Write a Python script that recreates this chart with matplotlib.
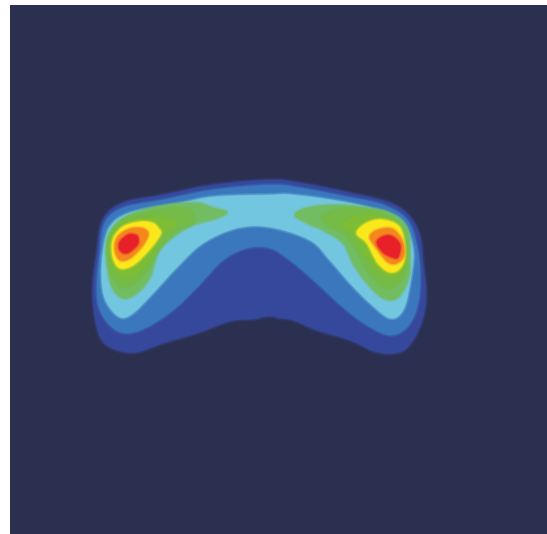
import numpy as np
import matplotlib
matplotlib.use("Agg")
import matplotlib.pyplot as plt

# contour bands (x, y in image coordinates)
band_outer = [(270,180),(213,185),(163,195),(123,203),(103,220),(97,253),(93,287),(95,317),(102,340),(117,350),(137,352),(163,343),(197,333),(230,321),(253,319),(262,317),(270,316),(280,318),(293,320),(317,330),(350,340),(377,352),(400,352),(413,340),(423,317),(426,293),(423,263),(420,237),(410,217),(390,203),(350,193),(300,183)]
band_mid = [(270,185),(213,190),(163,200),(123,208),(105,223),(100,253),(97,287),(100,310),(112,327),(127,333),(147,327),(173,310),(197,287),(223,260),(247,248),(270,248),(290,260),(317,283),(343,307),(367,325),(390,335),(407,327),(417,307),(420,280),(417,247),(407,220),(383,205),(347,197),(300,188)]
band_light = [(270,195),(213,197),(173,205),(130,213),(110,227),(103,253),(102,283),(107,303),(120,317),(133,313),(153,293),(177,267),(203,243),(237,228),(270,227),(310,240),(330,260),(350,283),(370,303),(390,318),(403,310),(410,283),(413,250),(403,223),(383,212),(343,202),(293,195)]

green1_left = [(227,212),(217,218),(193,225),(173,237),(158,253),(150,277),(137,293),(123,298),(112,287),(107,263),(107,240),(117,223),(137,212),(167,205),(197,203),(213,208)]
green2_left = [(190,210),(193,223),(177,230),(160,247),(147,270),(135,283),(122,287),(113,277),(108,257),(110,237),(123,220),(147,213),(170,208)]
green3_left = [(173,220),(175,225),(160,237),(150,257),(138,273),(123,277),(113,267),(110,250),(113,233),(130,220),(153,217)]
yellow_left = [(158,228),(160,235),(147,252),(133,265),(120,268),(113,257),(113,240),(123,227),(140,222),(152,223)]
orange_left = [(148,233),(143,245),(130,258),(120,260),(115,250),(117,238),(127,230),(140,228)]
red_left = [(138,238),(137,245),(127,253),(120,250),(120,242),(128,235),(135,235)]

green1_right = [(295,215),(307,208),(337,205),(367,208),(390,213),(407,228),(410,257),(408,280),(397,298),(383,298),(367,283),(353,263),(343,243),(323,230),(307,223)]
green2_right = [(323,215),(347,208),(377,212),(400,227),(407,257),(403,277),(393,287),(383,287),(367,270),(357,250),(343,233),(327,225)]
green3_right = [(342,225),(353,217),(377,215),(400,227),(406,257),(400,273),(390,278),(377,270),(365,253),(353,233)]
yellow_right = [(357,233),(367,223),(383,220),(400,228),(405,253),(400,268),(390,272),(378,263),(367,243)]
orange_right = [(370,237),(378,230),(392,229),(402,240),(404,255),(397,263),(388,262),(378,250)]
red_right = [(377,242),(385,236),(393,237),(400,245),(398,257),(392,257),(383,252)]

BG = "#2c3050"
layers = [
    (band_outer, "#35489b"), (band_mid, "#3b77bd"), (band_light, "#72c6e0"),
    (green1_left, "#72bd62"), (green1_right, "#72bd62"),
    (green2_left, "#74bb48"), (green2_right, "#74bb48"),
    (green3_left, "#7dbd35"), (green3_right, "#7dbd35"),
    (yellow_left, "#fbe81c"), (yellow_right, "#fbe81c"),
    (orange_left, "#f5871f"), (orange_right, "#f5871f"),
    (red_left, "#e7202a"), (red_right, "#e7202a"),
]


def smooth(points, n=12):
    """Closed Catmull-Rom outline through the traced points."""
    p = np.array(points, float)
    t = np.linspace(0, 1, n, endpoint=False)[:, None]
    out = []
    for i in range(len(p)):
        a, b, c, d = p[i - 1], p[i], p[(i + 1) % len(p)], p[(i + 2) % len(p)]
        out.append(0.5 * (2 * b + (c - a) * t + (2 * a - 5 * b + 4 * c - d) * t**2
                          + (3 * b - a - 3 * c + d) * t**3))
    return np.vstack(out)


W, H = 547, 534
L, T = 10, 5
fig = plt.figure(figsize=(W / 100, H / 100), dpi=100, facecolor="white")
ax = fig.add_axes([L / W, 0, (W - L) / W, (H - T) / H])
ax.set_xlim(L, W)
ax.set_ylim(H, T)
ax.set_facecolor(BG)
ax.set_xticks([])
ax.set_yticks([])
for s in ax.spines.values():
    s.set_visible(False)

for pts, col in layers:
    xy = smooth(pts)
    # soft translucent rims imitate the blurred edges of the original
    ax.fill(xy[:, 0], xy[:, 1], facecolor=col, edgecolor=col, lw=3.0, alpha=0.3)
    ax.fill(xy[:, 0], xy[:, 1], facecolor=col, edgecolor=col, lw=1.2, alpha=0.5)
    ax.fill(xy[:, 0], xy[:, 1], facecolor=col, edgecolor="none")

fig.savefig("out.png", dpi=100)
